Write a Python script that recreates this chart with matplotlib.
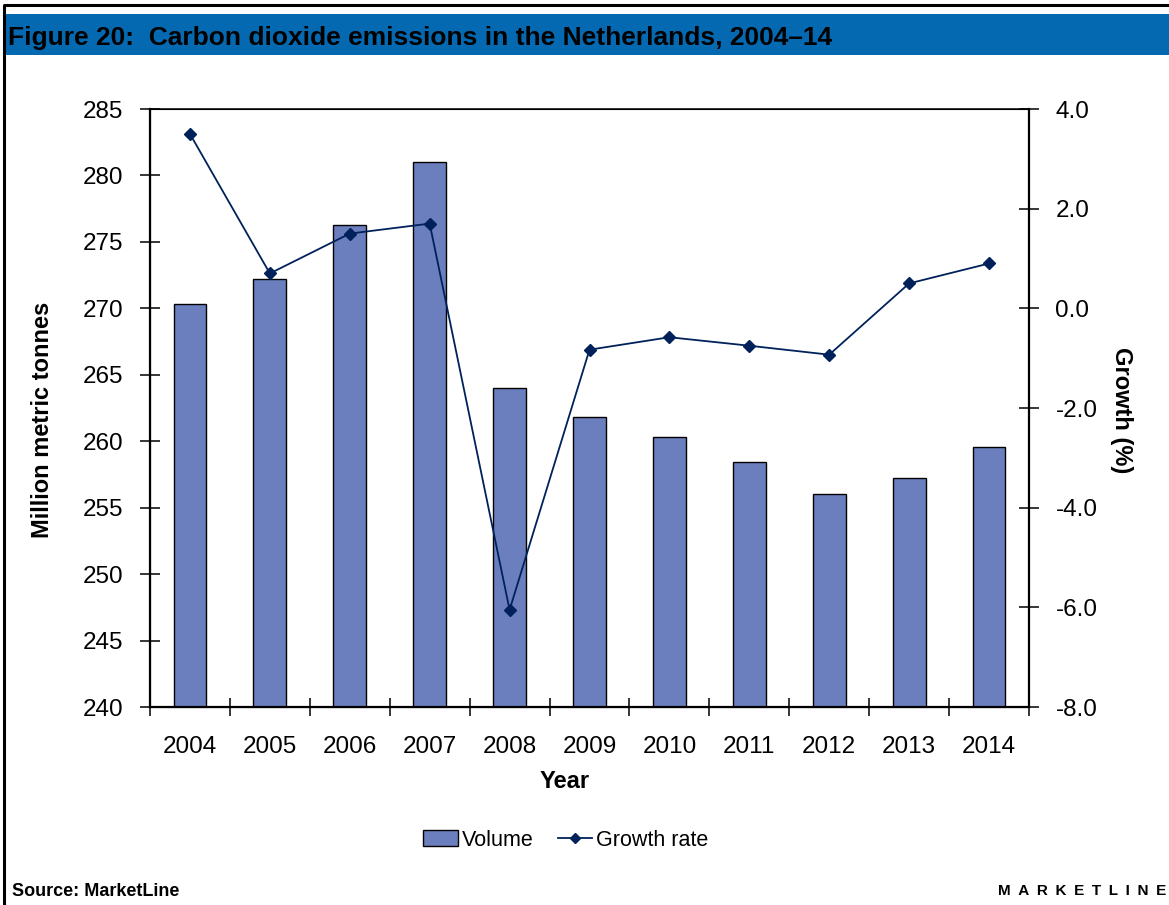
import numpy as np
import matplotlib
matplotlib.use('Agg')
from matplotlib import pyplot as plt
from matplotlib.patches import Rectangle, Patch
from matplotlib.lines import Line2D
from matplotlib.ticker import FixedLocator, FixedFormatter, FormatStrFormatter

plt.rcParams['font.family'] = ['Liberation Sans', 'DejaVu Sans']

years = ['2004', '2005', '2006', '2007', '2008', '2009', '2010', '2011', '2012', '2013', '2014']
volume = [270.3, 272.2, 276.3, 281.0, 264.0, 261.8, 260.3, 258.4, 256.0, 257.2, 259.6]  # million metric tonnes
growth = [3.5, 0.70, 1.50, 1.70, -6.05, -0.83, -0.58, -0.75, -0.93, 0.50, 0.90]  # %

bar_color = '#6B7FBF'
line_color = '#00215A'
band_color = '#0569B1'

W, H = 1169, 905
fig = plt.figure(figsize=(W / 100, H / 100), dpi=100)

# page frame (left and top edges) and header band
fig.add_artist(Line2D([4 / W, 4 / W, 1], [0, 1 - 5 / H, 1 - 5 / H], transform=fig.transFigure,
                      color='k', linewidth=2.2))
fig.add_artist(Rectangle((6 / W, 1 - 55 / H), 1, 41 / H, transform=fig.transFigure,
                         facecolor=band_color, edgecolor='none'))
fig.text(8 / W, 1 - 45 / H, 'Figure 20:  Carbon dioxide emissions in the Netherlands, 2004\u201314',
         fontsize=19, fontweight='bold', color='k', va='baseline', ha='left')

ax = fig.add_axes([150 / W, 1 - 707 / H, (1029 - 150) / W, (707 - 109) / H])
x = np.arange(len(years))
ax.bar(x, volume, width=0.41, color=bar_color, edgecolor='k', linewidth=1.0, zorder=2)
ax.set_xlim(-0.5, len(years) - 0.5)
ax.set_ylim(240, 285)
ax.set_yticks(np.arange(240, 286, 5))

# year labels sit between the boundary ticks
ax.xaxis.set_major_locator(FixedLocator(np.arange(-0.5, len(years), 1.0)))
ax.xaxis.set_major_formatter(FixedFormatter([''] * (len(years) + 1)))
ax.xaxis.set_minor_locator(FixedLocator(x))
ax.xaxis.set_minor_formatter(FixedFormatter(years))
ax.tick_params(axis='x', which='major', direction='inout', length=13, width=1.1)
ax.tick_params(axis='x', which='minor', length=0, pad=21, labelsize=17.5)
ax.tick_params(axis='y', direction='inout', length=14, width=1.1, pad=12, labelsize=17.5)

for s in ax.spines.values():
    s.set_linewidth(1.1)
ax.spines['left'].set_linewidth(1.6)
ax.spines['bottom'].set_linewidth(1.6)

ax2 = ax.twinx()
ax2.plot(x, growth, color=line_color, linewidth=1.3, marker='D', markersize=6.5,
         markerfacecolor=line_color, markeredgecolor=line_color)
ax2.set_ylim(-8, 4)
ax2.set_yticks(np.arange(-8, 4.1, 2))
ax2.yaxis.set_major_formatter(FormatStrFormatter('%.1f'))
ax2.tick_params(axis='y', direction='inout', length=14, width=1.1, pad=12, labelsize=17.5)
ax2.spines['right'].set_linewidth(1.6)

fig.text(43 / W, 1 - 420 / H, 'Million metric tonnes', rotation=90, fontsize=17,
         fontweight='bold', ha='center', va='center')
fig.text(1122 / W, 1 - 410 / H, 'Growth (%)', rotation=-90, fontsize=17,
         fontweight='bold', ha='center', va='center')
fig.text(565 / W, 1 - 782 / H, 'Year', fontsize=17, fontweight='bold', ha='center', va='center')

handles = [Patch(facecolor=bar_color, edgecolor='k', linewidth=1.0, label='Volume'),
           Line2D([], [], color=line_color, linewidth=1.3, marker='D', markersize=5.5,
                  label='Growth rate')]
fig.legend(handles=handles, loc='center', bbox_to_anchor=(566 / W, 1 - 840 / H), ncol=2,
           frameon=False, fontsize=15.5, handlelength=1.6, handletextpad=0.2,
           columnspacing=1.1)

fig.text(12 / W, 1 - 891 / H, 'Source: MarketLine', fontsize=13, fontweight='heavy',
         ha='left', va='center')
fig.text(1166 / W, 1 - 891 / H, '\u2002'.join('MARKETLINE'), fontsize=11, fontweight='heavy',
         ha='right', va='center')

fig.savefig('out.png', dpi=100)
